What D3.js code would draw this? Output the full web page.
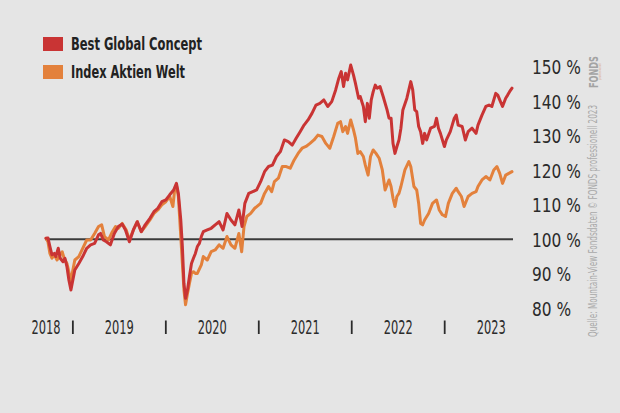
<!DOCTYPE html>
<html><head><meta charset="utf-8">
<script src="https://cdn.jsdelivr.net/npm/d3@7"></script>
<style>
html,body{margin:0;padding:0;background:#e5e5e5;}
svg{display:block;}
</style></head>
<body>
<script>
// ---- Data (decimal years, values in %) ----
const seriesNames = ["Best Global Concept", "Index Aktien Welt"];
const seriesColors = ["#c93434", "#e3813c"];

const bgcTime = [2018.711,2018.732,2018.753,2018.775,2018.800,2018.817,2018.843,2018.864,2018.894,2018.915,2018.936,2018.957,2018.979,2019.000,2019.021,2019.064,2019.106,2019.149,2019.191,2019.234,2019.276,2019.298,2019.327,2019.361,2019.404,2019.446,2019.489,2019.531,2019.566,2019.608,2019.651,2019.693,2019.736,2019.778,2019.829,2019.872,2019.914,2019.957,2020.000,2020.042,2020.084,2020.114,2020.135,2020.161,2020.178,2020.195,2020.212,2020.233,2020.254,2020.276,2020.297,2020.318,2020.339,2020.361,2020.382,2020.403,2020.446,2020.488,2020.531,2020.573,2020.616,2020.658,2020.701,2020.743,2020.786,2020.820,2020.850,2020.892,2020.935,2020.977,2021.020,2021.062,2021.105,2021.147,2021.190,2021.232,2021.275,2021.317,2021.360,2021.402,2021.445,2021.487,2021.530,2021.572,2021.615,2021.657,2021.700,2021.742,2021.785,2021.827,2021.861,2021.887,2021.912,2021.934,2021.955,2021.989,2022.019,2022.040,2022.074,2022.091,2022.125,2022.146,2022.168,2022.189,2022.210,2022.231,2022.253,2022.274,2022.304,2022.338,2022.380,2022.401,2022.423,2022.444,2022.465,2022.486,2022.508,2022.529,2022.550,2022.593,2022.635,2022.656,2022.678,2022.699,2022.720,2022.741,2022.763,2022.784,2022.805,2022.848,2022.890,2022.912,2022.933,2022.954,2022.997,2023.018,2023.060,2023.103,2023.124,2023.145,2023.188,2023.222,2023.252,2023.294,2023.337,2023.358,2023.401,2023.443,2023.477,2023.507,2023.549,2023.571,2023.592,2023.622,2023.656,2023.677,2023.698,2023.724];
const bgcValue = [100.3,100.4,97.9,95.5,95.9,95.0,97.4,94.5,93.5,94.5,92.1,88.2,85.3,88.2,91.1,93.0,95.0,97.4,98.4,98.8,101.3,101.7,99.8,99.3,98.4,101.7,103.7,104.4,102.7,99.3,102.7,105.1,102.2,104.2,106.1,108.0,109.0,110.9,111.4,112.9,114.3,116.2,113.3,105.6,97.9,87.2,82.9,85.3,89.2,93.0,94.5,95.9,97.9,98.8,100.8,102.2,102.7,103.2,104.2,105.1,102.7,107.5,105.6,104.2,108.5,103.7,110.4,113.3,113.8,114.3,116.7,119.6,121.1,121.5,124.0,125.4,128.8,128.3,127.3,129.3,131.2,133.1,134.6,136.5,138.9,139.4,140.4,138.5,139.9,143.3,146.7,148.6,144.3,148.1,146.2,150.5,147.6,145.2,140.9,141.4,138.5,134.1,139.4,135.1,140.4,142.8,144.7,143.8,144.3,141.4,137.5,135.1,135.1,127.8,124.9,126.9,128.8,132.2,137.5,140.9,145.7,143.3,137.5,137.0,132.7,131.2,127.8,130.7,128.8,132.2,132.7,135.1,132.2,130.7,126.9,128.8,131.2,135.1,136.0,133.1,132.7,128.8,131.2,132.2,130.7,133.1,136.0,138.5,138.9,138.5,142.3,141.8,140.4,138.5,140.9,141.8,142.8,143.8];

const idxTime = [2018.711,2018.732,2018.753,2018.775,2018.800,2018.830,2018.851,2018.885,2018.906,2018.936,2018.957,2018.979,2019.000,2019.021,2019.064,2019.106,2019.149,2019.191,2019.234,2019.276,2019.310,2019.340,2019.383,2019.425,2019.459,2019.489,2019.531,2019.574,2019.608,2019.651,2019.693,2019.736,2019.778,2019.829,2019.872,2019.914,2019.957,2020.000,2020.042,2020.076,2020.093,2020.114,2020.135,2020.161,2020.178,2020.195,2020.212,2020.233,2020.254,2020.276,2020.297,2020.318,2020.339,2020.382,2020.403,2020.446,2020.488,2020.531,2020.573,2020.616,2020.658,2020.701,2020.743,2020.786,2020.816,2020.841,2020.871,2020.913,2020.956,2021.020,2021.062,2021.105,2021.139,2021.168,2021.211,2021.253,2021.296,2021.338,2021.381,2021.423,2021.466,2021.508,2021.551,2021.594,2021.636,2021.679,2021.721,2021.764,2021.806,2021.849,2021.879,2021.904,2021.934,2021.955,2021.989,2022.019,2022.040,2022.066,2022.091,2022.125,2022.146,2022.176,2022.202,2022.231,2022.261,2022.295,2022.329,2022.359,2022.401,2022.423,2022.444,2022.465,2022.486,2022.508,2022.529,2022.572,2022.614,2022.635,2022.669,2022.699,2022.720,2022.741,2022.763,2022.784,2022.827,2022.869,2022.912,2022.941,2022.975,2023.009,2023.039,2023.082,2023.124,2023.145,2023.180,2023.209,2023.252,2023.294,2023.337,2023.358,2023.401,2023.443,2023.486,2023.528,2023.562,2023.592,2023.622,2023.656,2023.690,2023.724];
const idxValue = [100.3,99.3,95.9,94.5,95.5,94.0,95.0,96.4,94.5,93.0,90.6,87.6,91.1,94.0,95.0,97.4,99.8,99.8,101.7,103.7,104.2,100.8,99.8,102.2,103.7,103.2,104.6,102.7,99.8,102.7,105.1,102.2,103.7,105.6,107.5,108.5,110.0,110.9,112.4,109.5,113.8,115.7,112.4,100.8,93.0,85.3,81.0,84.3,87.2,90.1,90.6,90.1,90.1,92.6,95.0,94.0,96.4,96.9,98.4,97.4,100.8,98.4,97.4,101.7,96.4,103.7,106.6,107.5,109.0,110.4,113.3,115.3,113.8,116.7,117.7,121.1,121.1,120.6,123.0,124.9,126.4,126.9,127.8,128.8,130.2,129.8,127.8,126.4,129.8,133.6,134.1,131.2,132.7,130.7,134.6,131.7,129.3,124.9,125.4,124.0,121.5,118.6,124.0,125.9,124.9,123.5,120.1,114.3,117.2,115.3,111.9,109.5,112.4,113.3,115.3,120.1,122.5,121.1,115.3,114.3,110.4,104.6,104.2,105.6,107.5,110.4,111.4,108.5,107.1,106.6,110.4,113.3,114.8,113.8,112.4,109.5,112.4,113.3,113.8,115.3,117.2,118.2,117.2,120.1,121.1,119.1,116.2,118.6,119.1,119.6];

const yTicks = [80, 90, 100, 110, 120, 130, 140, 150];
const yearLabels = [2018, 2019, 2020, 2021, 2022, 2023];
const yearSeparators = [2019, 2020, 2021, 2022, 2023];
const baselineValue = 100;
const sourceText = "Quelle: Mountain-View Fondsdaten   \u00A9 FONDS professionell 2023";
const logoText = "FONDS";

// ---- Layout ----
const W = 620, H = 413;
const FONT = "'Liberation Sans Narrow','DejaVu Sans Condensed','Arial Narrow',sans-serif";
const svg = d3.select("body").append("svg").attr("width", W).attr("height", H);
svg.append("rect").attr("width", W).attr("height", H).attr("fill", "#e5e5e5");

const x = d3.scaleLinear().domain([bgcTime[0], bgcTime[bgcTime.length - 1]]).range([46, 512]);
const y = d3.scaleLinear().domain([80, 150]).range([308.3, 66.8]);

// baseline 100 %
svg.append("line")
  .attr("x1", x.range()[0] - 1).attr("x2", x.range()[1] + 1)
  .attr("y1", y(baselineValue)).attr("y2", y(baselineValue))
  .attr("stroke", "#3b3b3b").attr("stroke-width", 2);

const line = d3.line().x(d => x(d[0])).y(d => y(d[1])).curve(d3.curveLinear);
const idxData = d3.zip(idxTime, idxValue);
const bgcData = d3.zip(bgcTime, bgcValue);

svg.append("path").datum(idxData).attr("d", line)
  .attr("fill", "none").attr("stroke", seriesColors[1]).attr("stroke-width", 3)
  .attr("stroke-linejoin", "round").attr("stroke-linecap", "round");
svg.append("path").datum(bgcData).attr("d", line)
  .attr("fill", "none").attr("stroke", seriesColors[0]).attr("stroke-width", 3)
  .attr("stroke-linejoin", "round").attr("stroke-linecap", "round");

// Y axis labels (right)
const yAxis = d3.axisRight(y).tickValues(yTicks).tickSize(0).tickPadding(0)
  .tickFormat(d => d + " %");
const yg = svg.append("g").attr("transform", "translate(532,0)").call(yAxis);
yg.select(".domain").remove();
yg.selectAll("text")
  .attr("font-family", FONT).attr("font-size", 19).attr("fill", "#2b2b2b")
  .attr("dy", "0.36em").attr("x", 0).attr("text-anchor", "start")
  .attr("transform", "scale(0.9,1)");

// X axis labels
const labelY = 334;
const xg = svg.append("g");
xg.selectAll("text.year").data(yearLabels).join("text")
  .attr("class", "year")
  .attr("x", d => x(Math.max(d + 0.5, x.domain()[0])))
  .attr("y", labelY)
  .attr("text-anchor", "middle")
  .attr("font-family", FONT).attr("font-size", 19).attr("fill", "#2b2b2b")
  .attr("textLength", 29).attr("lengthAdjust", "spacingAndGlyphs")
  .text(d => d);
xg.selectAll("line.sep").data(yearSeparators).join("line")
  .attr("class", "sep")
  .attr("x1", d => x(d)).attr("x2", d => x(d))
  .attr("y1", labelY - 13.5).attr("y2", labelY)
  .attr("stroke", "#2b2b2b").attr("stroke-width", 1.8);

// Legend
const legend = svg.append("g").attr("transform", "translate(43,37)");
seriesNames.forEach((name, i) => {
  const g = legend.append("g").attr("transform", `translate(0,${i * 28})`);
  g.append("rect").attr("width", 20).attr("height", 14).attr("fill", seriesColors[i]);
  g.append("text").attr("x", 28).attr("y", 13.3)
    .attr("font-family", FONT).attr("font-weight", "bold").attr("font-size", 17.5)
    .attr("fill", "#222")
    .attr("textLength", i === 0 ? 131 : 114).attr("lengthAdjust", "spacingAndGlyphs")
    .text(name);
});

// Source / copyright (rotated)
svg.append("text")
  .attr("transform", "translate(597,337) rotate(-90)")
  .attr("font-family", FONT).attr("font-size", 11.5).attr("fill", "#a9a9a9")
  .attr("textLength", 232).attr("lengthAdjust", "spacingAndGlyphs")
  .text(sourceText);
svg.append("text")
  .attr("transform", "translate(598,88) rotate(-90)")
  .attr("font-family", FONT).attr("font-weight", "bold").attr("font-size", 12)
  .attr("fill", "#a3a3a3")
  .attr("textLength", 32).attr("lengthAdjust", "spacingAndGlyphs")
  .text(logoText);
svg.append("text")
  .attr("transform", "translate(600.5,80) rotate(-90)")
  .attr("font-family", FONT).attr("font-size", 3.5).attr("fill", "#d9a48a")
  .attr("textLength", 17).attr("lengthAdjust", "spacingAndGlyphs")
  .text("professionell");
</script>
</body></html>
